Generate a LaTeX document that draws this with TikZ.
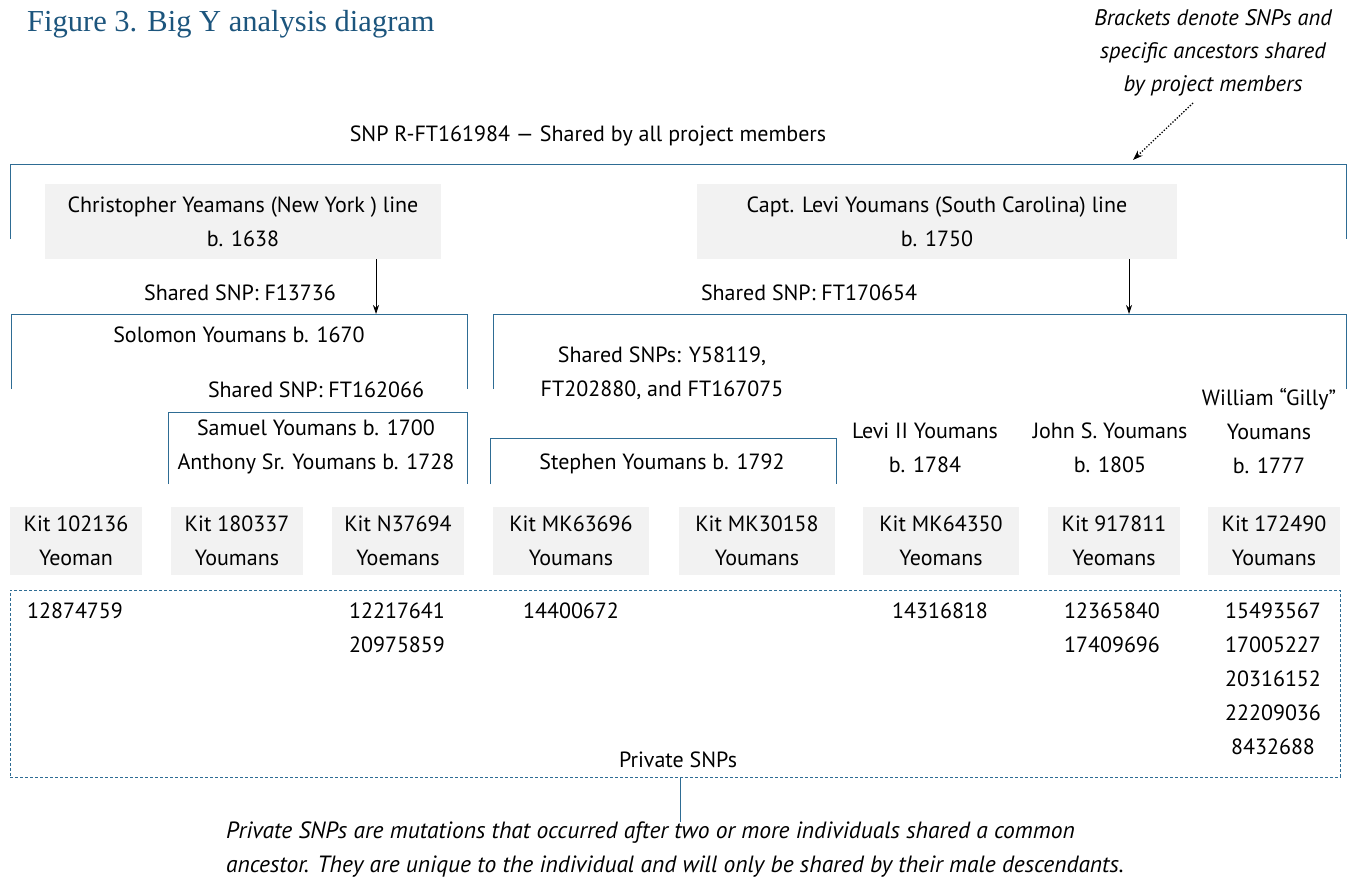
\documentclass[tikz,border=0pt]{standalone}
\usepackage{fontspec}
\setmainfont{PT Sans}
\newfontfamily\titlefont{Liberation Serif}
\usetikzlibrary{arrows.meta}
\definecolor{brk}{RGB}{46,108,148}
\definecolor{ttl}{RGB}{28,85,125}
\definecolor{boxgray}{RGB}{242,242,242}
\begin{document}
\begin{tikzpicture}[x=1pt,y=-1pt,
  txt/.style={font=\fontsize{22}{34}\selectfont, align=center, inner sep=0pt},
  itxt/.style={font=\itshape\fontsize{22.5}{33}\selectfont, inner sep=0pt},
  gbox/.style={txt, fill=boxgray},
  kit/.style={gbox, minimum width=132pt, minimum height=68pt},
  kitw/.style={kit, minimum width=156pt},
  brkline/.style={draw=brk, line width=1pt},
  arr/.style={draw=black, line width=0.8pt, -{Stealth[length=9pt,width=6pt]}},
  dotarr/.style={draw=black, line width=1.3pt, dash pattern=on 1.3pt off 1.7pt, -{Stealth[length=10pt,width=7pt]}}
]
\useasboundingbox (0,0) rectangle (1356,880);
% title
\node[anchor=base west, font=\titlefont\fontsize{30.5}{32}\selectfont, text=ttl, inner sep=0pt] (title) at (27,32) {Figure 3. Big Y analysis diagram};
% note
\node[itxt, align=center] (note) at (1213,53) {Brackets denote SNPs and\\specific ancestors shared\\by project members};
\coordinate (nt) at (1193,103);
\coordinate (nh) at (1133,160);
\draw[dotarr] (nt) -- (nh);
% top bracket
\node[txt] (allsnp) at (588,136) {SNP R-FT161984 — Shared by all project members};
\draw[brkline] (10,239) |- (1346,164) -- (1346,239);
% line boxes
\node[gbox, minimum width=396pt, minimum height=75pt] (chris) at (243,221.5) {Christopher Yeamans (New York ) line\\b. 1638};
\node[gbox, minimum width=480pt, minimum height=75pt] (levi) at (937,221.5) {Capt. Levi Youmans (South Carolina) line\\b. 1750};
\coordinate (solA) at (376,314);
\coordinate (leviA) at (1129,314);
\draw[arr] (chris.south -| solA) -- (solA);
\draw[arr] (levi.south -| leviA) -- (leviA);
\node[txt] (snp1) at (240,293) {Shared SNP: F13736};
\node[txt] (snp2) at (809,293) {Shared SNP: FT170654};
% second level brackets
\draw[brkline] (11,389) |- (467,314) -- (467,389);
\node[txt] (solomon) at (239,335) {Solomon Youmans b. 1670};
\draw[brkline] (493,389) |- (1346,314) -- (1346,389);
\node[txt] (snp3) at (316,390) {Shared SNP: FT162066};
% third level
\draw[brkline] (168,484) |- (467,412) -- (467,484);
\node[txt] (samuel) at (316,447) {Samuel Youmans b. 1700\\Anthony Sr. Youmans b. 1728};
\draw[brkline] (490,484) |- (836,438) -- (836,484);
\node[txt] (snp4) at (662,373.5) {Shared SNPs: Y58119,\\FT202880, and FT167075};
\node[txt] (stephen) at (662,464) {Stephen Youmans b. 1792};
\node[txt] (levi2) at (925,447.5) {Levi II Youmans\\b. 1784};
\node[txt] (johns) at (1110,447.5) {John S. Youmans\\b. 1805};
\node[txt] (william) at (1269,431) {William “Gilly”\\Youmans\\b. 1777};
% kits
\node[kit]  (k1) at (76,541)   {Kit 102136\\Yeoman};
\node[kit]  (k2) at (237,541)  {Kit 180337\\Youmans};
\node[kit]  (k3) at (398,541)  {Kit N37694\\Yoemans};
\node[kitw] (k4) at (571,541)  {Kit MK63696\\Youmans};
\node[kitw] (k5) at (757,541)  {Kit MK30158\\Youmans};
\node[kitw] (k6) at (941,541)  {Kit MK64350\\Yeomans};
\node[kit]  (k7) at (1114,541) {Kit 917811\\Yeomans};
\node[kit]  (k8) at (1274,541) {Kit 172490\\Youmans};
% private SNPs box
\node[draw=brk, line width=1pt, dash pattern=on 3pt off 2pt, minimum width=1330pt, minimum height=187pt, inner sep=0pt] (priv) at (675,683.5) {};
\node[txt] (privlbl) at (678,760) {Private SNPs};
\node[txt] (p1) at (75,611) {12874759};
\node[txt] (p3) at (397,628) {12217641\\20975859};
\node[txt] (p4) at (571,611) {14400672};
\node[txt] (p6) at (940,611) {14316818};
\node[txt] (p7) at (1112,628) {12365840\\17409696};
\node[txt] (p8) at (1273,679) {15493567\\17005227\\20316152\\22209036\\8432688};
% bottom note
\coordinate (botc) at (680,822);
\draw[brkline, line width=0.8pt] (priv.south -| botc) -- (botc);
\node[itxt, font=\itshape\fontsize{23.5}{34}\selectfont, align=left, anchor=north west] (bnote) at (226,822) {Private SNPs are mutations that occurred after two or more individuals shared a common\\ancestor. They are unique to the individual and will only be shared by their male descendants.};
\end{tikzpicture}
\end{document}
